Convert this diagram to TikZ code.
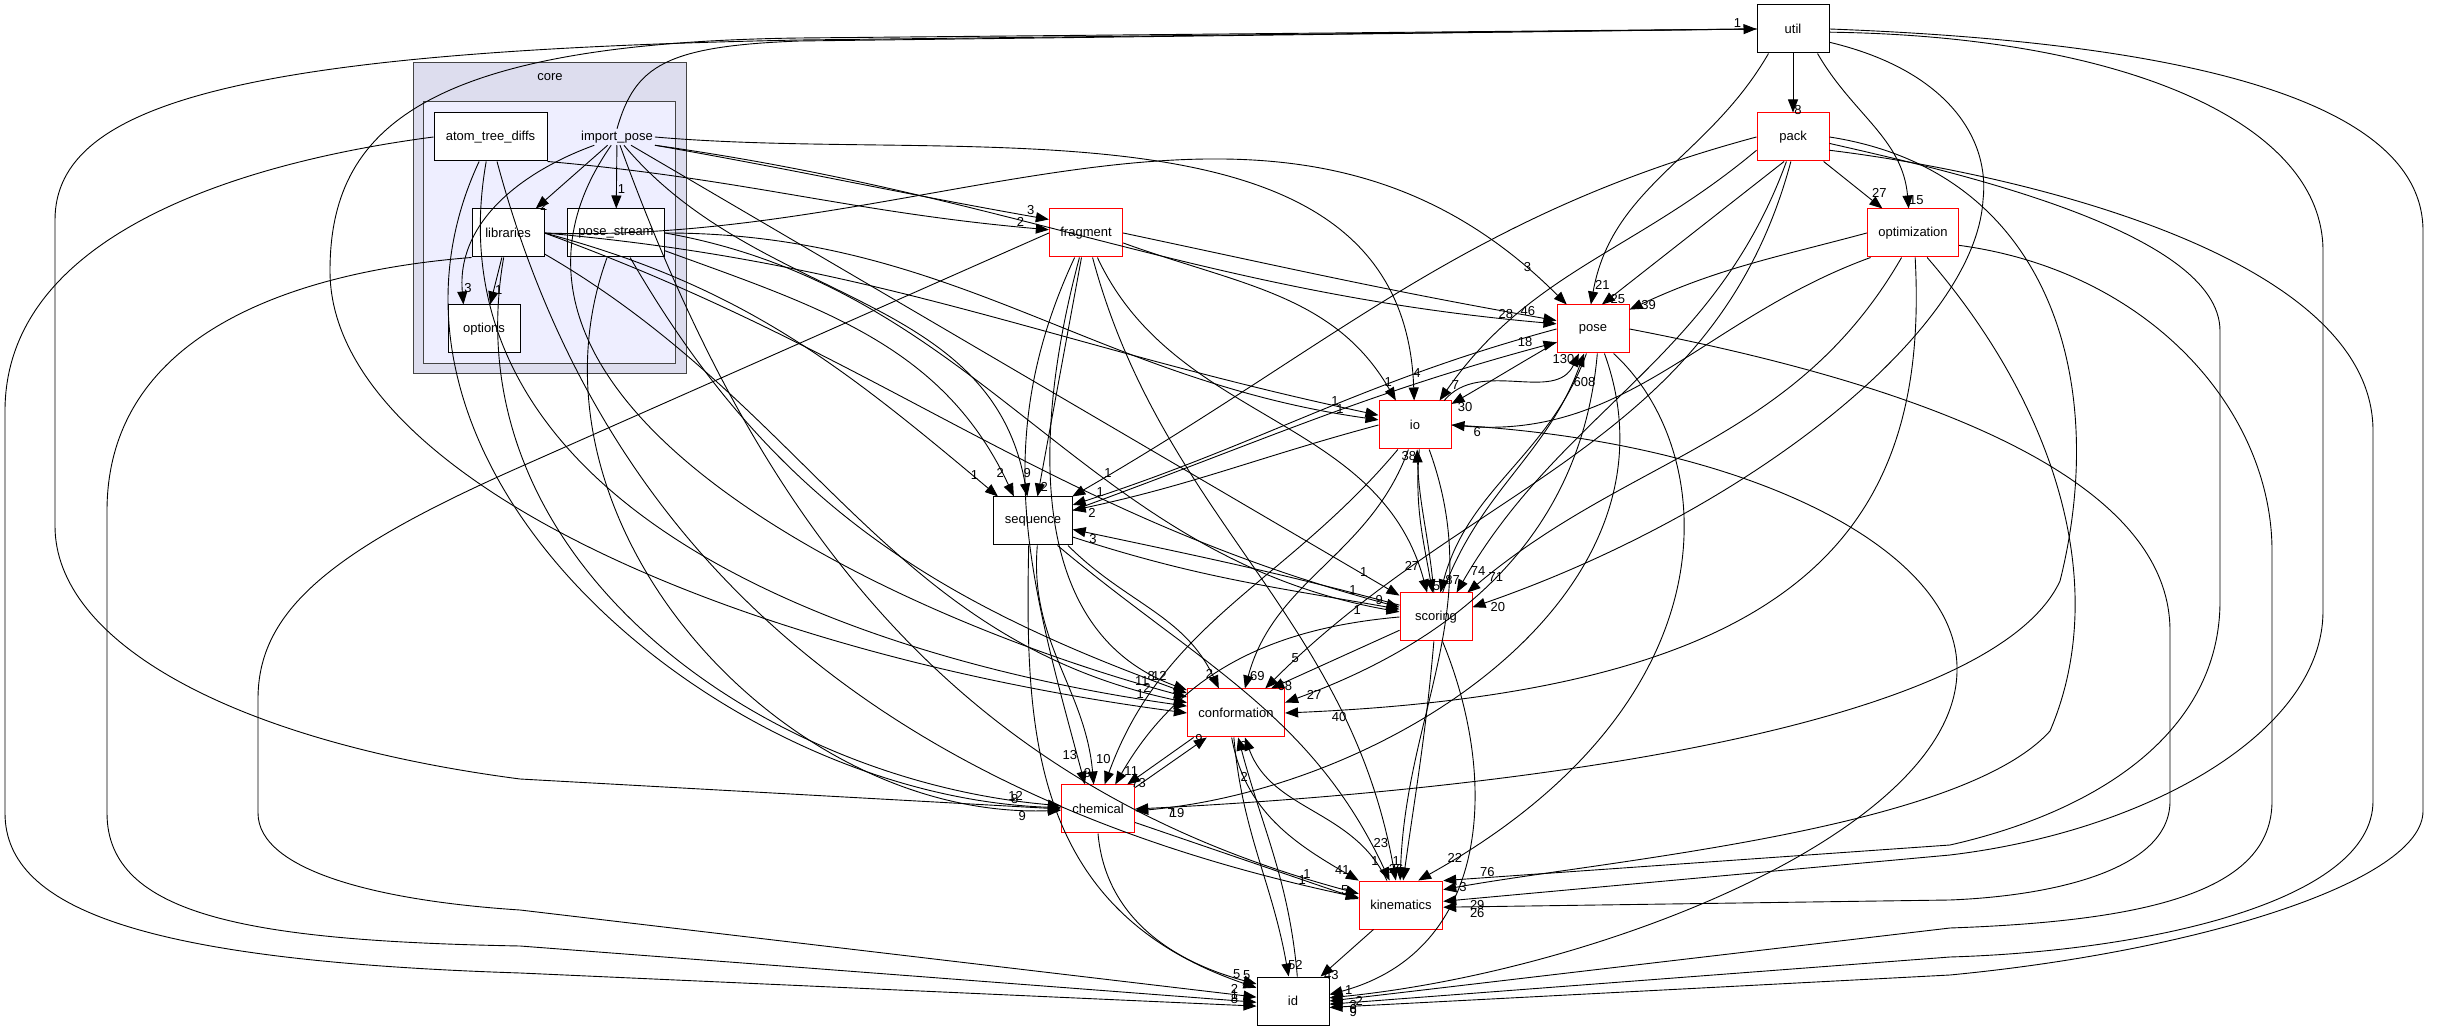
\documentclass[tikz,border=0pt]{standalone}
\usepackage{fontspec}
\setmainfont{Liberation Sans}
\usetikzlibrary{arrows.meta}
\definecolor{coreout}{HTML}{DDDDEE}
\definecolor{corein}{HTML}{EEEEFF}
\definecolor{clusterpen}{HTML}{444444}
\newcommand{\dirfont}{\fontsize{13}{15}\selectfont}

\begin{document}
\begin{tikzpicture}[x=1pt,y=1pt]
\tikzset{
  dirnode/.style={draw=black, fill=white, line width=1pt, minimum width=72pt, minimum height=48pt, inner xsep=11pt, font=\dirfont},
  reddir/.style={dirnode, draw=red},
  dep/.style={-{Triangle[length=13pt,width=10pt]}, line width=0.9pt},
  lbl/.style={font=\dirfont, inner sep=1pt, pos=.96}
}
\useasboundingbox (0,0) rectangle (2438,1031);
% core cluster
\filldraw[fill=coreout, draw=clusterpen, line width=1pt] (413,657) rectangle (686,968);
\node[font=\dirfont] (corelabel) at (550,954) {core};
\filldraw[fill=corein, draw=clusterpen, line width=1pt] (423,667) rectangle (675,929);
\node[dirnode, minimum width=113pt, inner xsep=8pt] (atomtreediffs) at (490.5,894) {atom\_tree\_diffs};
\node[font=\dirfont, inner sep=2pt] (importpose) at (617,894) {import\_pose};
\node[dirnode] (libraries) at (508,798) {libraries};
\node[dirnode, minimum width=96pt] (posestream) at (616,798) {pose\_stream};
\node[dirnode] (options) at (484,702) {options};
% other directories
\node[dirnode] (util) at (1793,1002) {util};
\node[reddir] (pack) at (1793,894) {pack};
\node[reddir] (optimization) at (1913,798) {optimization};
\node[reddir] (pose) at (1593,702) {pose};
\node[reddir] (fragment) at (1086,798) {fragment};
\node[reddir] (io) at (1415,606) {io};
\node[dirnode] (sequence) at (1033,510) {sequence};
\node[reddir] (scoring) at (1436,414) {scoring};
\node[reddir] (conformation) at (1236,318) {conformation};
\node[reddir] (chemical) at (1098,222) {chemical};
\node[reddir] (kinematics) at (1401,126) {kinematics};
\node[dirnode] (id) at (1293,30) {id};

% inside core
\path (importpose) edge[dep] node[lbl,right] {2} (libraries);
\path (importpose) edge[dep] node[lbl,pos=.7,right] {1} (posestream);
\path (importpose.200) edge[dep,out=200,in=95] node[lbl,pos=.93,right] {3} (options.130);
\path (libraries) edge[dep] node[lbl,pos=.7,right] {1} (options);

% long routes round the left
\draw[dep] (importpose.north) .. controls (635,965) and (665,985) .. (800,990) -- node[lbl,pos=.98,above] {1} (util.west);
\draw[dep] (util.west) -- (800,991) .. controls (250,980) and (55,930) .. (55,811) -- (55,505) .. controls (55,390) and (230,290) .. (520,252) -- (chemical.west);
\draw[dep] (util.west) -- (800,993) .. controls (420,988) and (330,900) .. (330,760) .. controls (330,560) and (720,380) .. (conformation.west);
\draw[dep] (atomtreediffs.west) .. controls (250,870) and (5,800) .. (5,620) -- (5,218) .. controls (5,120) and (150,70) .. (520,58) -- node[lbl,pos=.97,above] {8} (id.188);
\draw[dep] (libraries.south west) .. controls (300,760) and (107,700) .. (107,520) -- (107,218) .. controls (107,115) and (250,90) .. (520,85) -- node[lbl,pos=.97,above] {1} (id.182);
\draw[dep] (fragment.west) -- (520,564) .. controls (330,480) and (258,420) .. (258,332) -- (258,218) .. controls (258,160) and (380,130) .. (520,121) -- node[lbl,pos=.97,above] {2} (id.174);

% import_pose
\path (importpose.south east) edge[dep,out=-10,in=170] node[lbl,above] {3} (fragment.160);
\path (importpose) edge[dep,out=-50,in=100] node[lbl,right] {9} (sequence.103);
\path (importpose) edge[dep] node[lbl,above left] {1} (scoring);
\path (importpose.east) edge[dep,out=-5,in=92] node[lbl,pos=.97,right] {4} (io);
\path (importpose.south east) edge[dep,out=-8,in=175] node[lbl,above left] {28} (pose.172);
\path (importpose) edge[dep,out=235,in=165] node[lbl,above left] {11} (conformation.162);
\path (importpose) edge[dep,out=-70,in=165] node[lbl,above left] {1} (kinematics.165);

% atom_tree_diffs
\path (atomtreediffs.south east) edge[dep,out=-5,in=175] node[lbl,above left] {2} (fragment.175);
\path (atomtreediffs) edge[dep,out=-100,in=172] node[lbl,above left] {1} (conformation.172);
\path (atomtreediffs) edge[dep,out=-115,in=178] node[lbl,above left] {8} (chemical.178);
\path (atomtreediffs) edge[dep,out=-75,in=168] node[lbl,above left] {1} (kinematics.170);

% libraries
\path (libraries.east) edge[dep,out=-15,in=140] node[lbl,above left] {1} (sequence.145);
\path (libraries.east) edge[dep,out=-5,in=168] node[lbl,above left] {1} (io.165);
\path (libraries.east) edge[dep,out=-2,in=135] node[lbl,above left] {3} (pose.137);
\path (libraries) edge[dep,out=-30,in=168] node[lbl,above left] {2} (conformation.168);
\path (libraries) edge[dep,out=-100,in=175] node[lbl,above left] {12} (chemical.175);
\path (libraries.east) edge[dep,out=-20,in=165] node[lbl,above left] {1} (scoring.165);

% pose_stream
\path (posestream) edge[dep,out=-20,in=115] node[lbl,above left] {2} (sequence.128);
\path (posestream.east) edge[dep,out=0,in=172] node[lbl,above left] {1} (io.172);
\path (posestream) edge[dep,out=-60,in=160] node[lbl,above left] {8} (conformation.158);
\path (posestream) edge[dep,out=-110,in=182] node[lbl,below left] {9} (chemical.182);
\path (posestream.east) edge[dep,out=-10,in=170] node[lbl,below left] {1} (scoring.172);

% fragment
\path (fragment.east) edge[dep,out=-12,in=170] node[lbl,above left] {46} (pose.167);
\path (fragment.-15) edge[dep,out=-20,in=120] node[lbl,above] {1} (io.128);
\path (fragment) edge[dep] node[lbl,right] {2} (sequence);
\path (fragment) edge[dep,out=-65,in=105] node[lbl,above left] {27} (scoring.110);
\path (fragment) edge[dep,out=-105,in=160] node[lbl,above left] {12} (conformation.155);
\path (fragment) edge[dep,out=-115,in=105] node[lbl,above left] {13} (chemical.118);
\path (fragment) edge[dep,out=-75,in=100] node[lbl,above left] {23} (kinematics.102);

% util
\path (util) edge[dep] node[lbl,right] {8} (pack);
\path (util.-45) edge[dep,out=-60,in=95] node[lbl,right] {15} (optimization.100);
\path (util.225) edge[dep,out=240,in=80] node[lbl,above right] {21} (pose.95);
\draw[dep] (util.-20) .. controls (1950,960) and (1990,890) .. (1983,831) .. controls (1975,700) and (1750,520) .. node[lbl,pos=.98,below right] {20} (scoring.15);
\draw[dep] (util.-5) .. controls (2120,995) and (2323,910) .. (2323,780) -- (2323,420) .. controls (2323,300) and (2150,200) .. (1950,176) -- node[lbl,pos=.95,below right] {29} (kinematics.5);
\draw[dep] (util.east) .. controls (2150,990) and (2423,940) .. (2423,800) -- (2423,220) .. controls (2423,150) and (2200,80) .. (1950,56) -- node[lbl,pos=.97,below right] {9} (id.-10);

% pack
\path (pack) edge[dep] node[lbl,pos=.8,above right] {27} (optimization);
\path (pack.250) edge[dep] node[lbl,right] {25} (pose.70);
\path (pack.200) edge[dep,out=220,in=55] node[lbl,right] {7} (io.45);
\path (pack.west) edge[dep,out=195,in=30] node[lbl,above right] {1} (sequence.32);
\path (pack.255) edge[dep,out=250,in=60] node[lbl,right] {74} (scoring.50);
\path (pack.265) edge[dep,out=255,in=45] node[lbl,above right] {5} (conformation.40);
\draw[dep] (pack.east) .. controls (2050,860) and (2110,650) .. (2060,450) .. controls (1990,300) and (1500,240) .. node[lbl,pos=.97,below right] {19} (chemical.east);
\draw[dep] (pack.-10) .. controls (1950,860) and (2220,800) .. (2220,700) -- (2220,430) .. controls (2220,300) and (2100,220) .. (1950,186) -- node[lbl,pos=.93,above right] {76} (kinematics.30);
\draw[dep] (pack.-20) .. controls (2000,860) and (2373,780) .. (2373,600) -- (2373,230) .. controls (2373,130) and (2150,80) .. (1950,74) -- node[lbl,pos=.97,below right] {6} (id.-5);

% optimization
\path (optimization.west) edge[dep,out=195,in=25] node[lbl,right] {39} (pose.28);
\path (optimization.210) edge[dep,out=200,in=-5] node[lbl,below right] {6} (io.east);
\path (optimization.245) edge[dep,out=240,in=40] node[lbl,right] {71} (scoring.38);
\draw[dep] (optimization.-85) .. controls (1930,500) and (1800,340) .. node[lbl,pos=.97,below right] {40} (conformation.east);
\draw[dep] (optimization.-60) .. controls (2060,620) and (2110,440) .. (2050,300) .. controls (1960,200) and (1600,170) .. node[lbl,pos=.97,right] {3} (kinematics.20);
\draw[dep] (optimization.-15) .. controls (2150,760) and (2272,620) .. (2272,480) -- (2272,230) .. controls (2272,140) and (2150,110) .. (1950,103) -- node[lbl,pos=.97,below right] {3} (id.0);

% pose
\path (pose.200) edge[dep,out=210,in=30] node[lbl,below right] {30} (io.30);
\path (pose.west) edge[dep,out=195,in=18] node[lbl,above right] {1} (sequence.22);
\path (pose.255) edge[dep,out=250,in=75] node[lbl,right] {87} (scoring.80);
\path (pose.-80) edge[dep,out=-95,in=20] node[lbl,right] {27} (conformation.12);
\path (pose.-65) edge[dep,out=-70,in=5] node[lbl,below right] {7} (chemical.-3);
\draw[dep] (pose.-50) .. controls (1720,580) and (1740,330) .. node[lbl,pos=.97,above right] {22} (kinematics.55);
\draw[dep] (pose.east) .. controls (1900,650) and (2170,560) .. (2170,400) -- (2170,230) .. controls (2170,160) and (2050,135) .. (1950,131) -- node[lbl,pos=.95,below right] {26} (kinematics.-3);

% io
\path (io.west) edge[dep,out=195,in=12] node[lbl,below right] {2} (sequence.15);
\path (io.40) edge[dep,out=50,in=245] node[lbl,left] {130} (pose.240);
\path (io.-80) edge[dep,out=-95,in=100] node[lbl,right] {5} (scoring.98);
\path (io.-105) edge[dep,out=-110,in=75] node[lbl,right] {69} (conformation.70);
\path (io.-125) edge[dep,out=-130,in=70] node[lbl,above left] {10} (chemical.75);
\path (io.-60) edge[dep,out=-70,in=88] node[lbl,left] {1} (kinematics.92);
\draw[dep] (io.east) .. controls (1750,590) and (1960,480) .. (1957,360) .. controls (1955,200) and (1600,60) .. node[lbl,pos=.97,below right] {2} (id.5);

% scoring
\path (scoring.95) edge[dep,out=95,in=-88] node[lbl,left] {38} (io.-85);
\path (scoring.75) edge[dep,out=70,in=-110] node[lbl,pos=.9,right] {608} (pose.-110);
\path (scoring.162) edge[dep,out=165,in=-12] node[lbl,below right] {3} (sequence.-12);
\path (sequence.-22) edge[dep,out=-18,in=170] node[lbl,above left] {9} (scoring.168);
\path (scoring.200) edge[dep] node[lbl,right] {68} (conformation.35);
\path (scoring.west) edge[dep,out=185,in=60] node[lbl,right] {11} (chemical.55);
\path (scoring.-95) edge[dep,out=-95,in=82] node[lbl,left] {26} (kinematics.85);
\draw[dep] (scoring.-75) .. controls (1500,250) and (1490,80) .. node[lbl,pos=.97,right] {1} (id.10);

% sequence
\path (sequence.15) edge[dep,out=20,in=195] node[lbl,above left] {18} (pose.200);
\path (sequence.-35) edge[dep,out=-45,in=115] node[lbl,above left] {2} (conformation.125);
\path (sequence.-80) edge[dep,out=-95,in=95] node[lbl,left] {9} (chemical.100);
\path (sequence.-45) edge[dep,out=-40,in=115] node[lbl,left] {1} (kinematics.115);
\draw[dep] (sequence.-100) .. controls (1025,300) and (1030,120) .. node[lbl,pos=.97,above] {5} (id.160);

% conformation, chemical, kinematics
\path (conformation.-95) edge[dep,out=-85,in=100] node[lbl,right] {52} (id.100);
\path (id.80) edge[dep,out=95,in=-75] node[lbl,pos=.85,left] {2} (conformation.-85);
\path (conformation.-150) edge[dep] node[lbl,right] {73} (chemical.40);
\path (chemical.30) edge[dep] node[lbl,left] {9} (conformation.-140);
\path (conformation.-100) edge[dep,out=-80,in=150] node[lbl,above left] {41} (kinematics.150);
\path (kinematics.120) edge[dep,out=115,in=-70] node[lbl,left] {6} (conformation.-70);
\path (chemical.-20) edge[dep] node[lbl,above left] {5} (kinematics.172);
\path (chemical.-90) edge[dep,out=-85,in=165] node[lbl,above] {5} (id.155);
\path (kinematics) edge[dep] node[lbl,right] {43} (id);
\end{tikzpicture}
\end{document}
